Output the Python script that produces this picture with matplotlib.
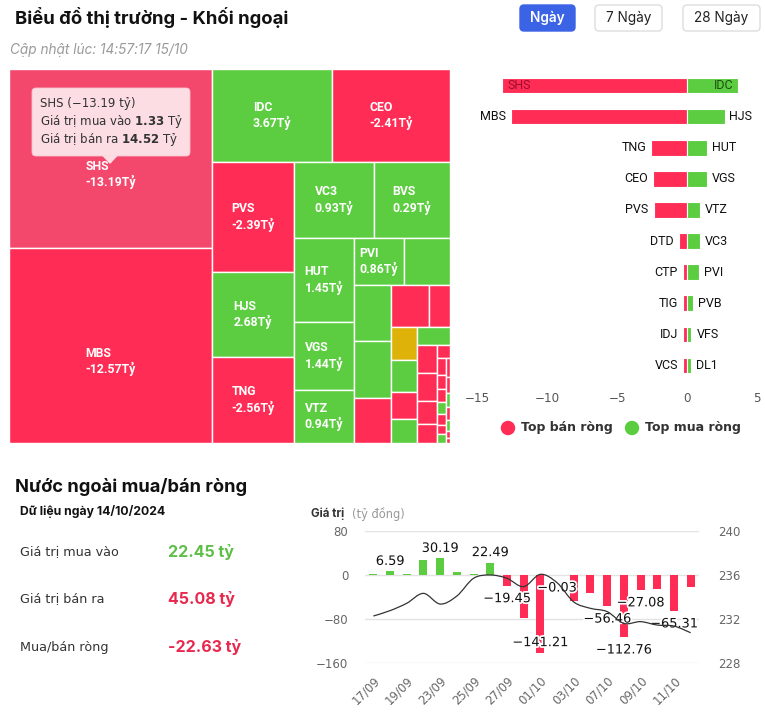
import matplotlib
matplotlib.use("Agg")
import matplotlib.pyplot as plt
import matplotlib.patheffects as pe
from matplotlib.patches import Rectangle, FancyBboxPatch, Circle, Polygon, PathPatch
from matplotlib.path import Path

RED = "#ff2d55"
RED_HOVER = "#f4476c"
GREEN = "#5ccd40"
YELLOW = "#dfb20a"

# treemap: ma, gia tri giao dich (trong so dien tich), mua/ban rong (ty)
tm_names = ["SHS", "MBS", "IDC", "CEO", "PVS", "HJS", "TNG", "VC3", "BVS", "HUT", "VGS", "VTZ", "PVI",
            "", "", "", "", "", "", "", "", "", "", "", "", "", "", "",
            "", "", "", "", "", "", "", "", "", "", "", "", "", "", ""]
tm_sizes = [36337, 39585, 11160, 10974, 9020, 6970, 7052, 6080, 5776, 5040, 4080, 3180, 2350,
            2162, 2072, 2109, 1665, 1596, 882, 884, 832, 702, 624, 594, 560, 560, 460, 380,
            182, 150, 140, 120, 110, 100, 90, 80, 70, 60, 55, 50, 40, 27, 20]
tm_net = [-13.19, -12.57, 3.67, -2.41, -2.39, 2.68, -2.56, 0.93, 0.29, 1.45, 1.44, 0.94, 0.86,
          0.5, 0.4, 0.3, -0.3, -0.3, -0.2, 0.0, 0.1, -0.2, 0.1, 0.1, -0.2, -0.2, -0.1, -0.1,
          -0.1, -0.1, -0.1, -0.1, 0.1, -0.1, -0.1, 0.1, -0.1, -0.1, 0.1, -0.1, 0.1, -0.1, -0.1]

# top mua/ban rong
sell_names = ["SHS", "MBS", "TNG", "CEO", "PVS", "DTD", "CTP", "TIG", "IDJ", "VCS"]
sell_vals = [-13.19, -12.57, -2.56, -2.41, -2.39, -0.58, -0.32, -0.31, -0.30, -0.29]
buy_names = ["IDC", "HJS", "HUT", "VGS", "VTZ", "VC3", "PVI", "PVB", "VFS", "DL1"]
buy_vals = [3.67, 2.68, 1.45, 1.44, 0.94, 0.93, 0.86, 0.46, 0.32, 0.31]

# lich su mua/ban rong + chi so
dates = ["17/09", "18/09", "19/09", "20/09", "23/09", "24/09", "25/09", "26/09", "27/09", "30/09",
         "01/10", "02/10", "03/10", "04/10", "07/10", "08/10", "09/10", "10/10", "11/10", "14/10"]
net_vals = [1.5, 6.59, 1.2, 27.0, 30.19, 5.5, 1.8, 22.49, -19.45, -78.0,
            -141.21, -0.03, -47.0, -33.0, -56.46, -112.76, -27.08, -26.0, -65.31, -22.63]
index_vals = [232.27, 232.76, 233.43, 234.33, 233.36, 234.09, 235.7, 236.0, 235.7, 234.94,
              236.06, 235.3, 233.55, 232.97, 232.67, 231.6, 231.76, 231.45, 231.36, 230.75]
labeled_days = ["18/09", "23/09", "26/09", "27/09", "01/10", "02/10", "07/10", "08/10", "09/10", "11/10"]


def treemap_layout(sizes, x0, y0, w, h):
    # squarified, doi huong sau moi nhom (kieu highcharts)
    total = float(sum(sizes))
    areas = [s * w * h / total for s in sizes]

    def ratio(a, s, d, w, h):
        t = s / h if d == 0 else s / w
        u = a / t
        return max(t / u, u / t)

    def place(group, x0, y0, w, h, d):
        s = sum(group)
        out = []
        if d == 0:
            gw = s / h
            yy = y0
            for a in group:
                out.append((x0, yy, gw, a / gw))
                yy += a / gw
            return out, x0 + gw, y0, w - gw, h
        gh = s / w
        xx = x0
        for a in group:
            out.append((xx, y0, a / gh, gh))
            xx += a / gh
        return out, x0, y0 + gh, w, h - gh

    rects, group, d = [], [], 0
    for a in areas:
        if group:
            s = sum(group)
            if ratio(group[-1], s + a, d, w, h) > ratio(group[-1], s, d, w, h):
                out, x0, y0, w, h = place(group, x0, y0, w, h, d)
                rects += out
                d = 1 - d
                group = []
        group.append(a)
    out, *_ = place(group, x0, y0, w, h, d)
    return rects + out


W_PX, H_PX = 765, 715
fig = plt.figure(figsize=(W_PX / 100, H_PX / 100), dpi=100)


def box(l, t, r, b):
    return [l / W_PX, 1 - b / H_PX, (r - l) / W_PX, (b - t) / H_PX]


# ---------- treemap ----------
TW, TH = 441, 374
ax = fig.add_axes(box(9, 69, 9 + TW, 69 + TH))
ax.set_xlim(0, TW)
ax.set_ylim(TH, 0)
ax.axis("off")
for i, (x, y, w, h) in enumerate(treemap_layout(tm_sizes, 0, 0, TW, TH)):
    v = tm_net[i]
    c = GREEN if v > 0 else (RED if v < 0 else YELLOW)
    if i == 0:
        c = RED_HOVER
    ax.add_patch(Rectangle((x, y), w, h, facecolor=c, edgecolor="white", linewidth=1))
    if tm_names[i]:
        # o lon: nhan hoi lech xuong duoi
        cy = y + h / 2 + (16 if h > 150 else 0)
        ax.text(x + w / 2, cy, f"{tm_names[i]}\n{v:.2f}Tỷ", ha="center", va="center",
                multialignment="left", color="white", fontsize=8.8, fontweight="bold",
                family="Roboto", linespacing=1.2)

# ---------- top ban/mua rong ----------
bx = fig.add_axes(box(477, 70, 757, 381))
rows = list(range(len(sell_names)))
bx.barh(rows, sell_vals, height=0.5, color=RED, edgecolor="white", linewidth=0.8)
bx.barh(rows, buy_vals, height=0.5, color=GREEN, edgecolor="white", linewidth=0.8)
bx.set_xlim(-15, 5)
bx.set_ylim(len(rows) - 0.5, -0.5)
bx.set_yticks([])
bx.set_xticks([-15, -10, -5, 0, 5])
bx.tick_params(axis="x", length=0, pad=8, labelsize=8.6, labelcolor="#555")
for s in bx.spines.values():
    s.set_visible(False)
for r in rows:
    sv, bv = sell_vals[r], buy_vals[r]
    if sv - 2.1 < -15:
        bx.text(sv + 0.35, r, sell_names[r], ha="left", va="center", fontsize=9,
                family="Roboto", color="#9e0d2c")
    else:
        bx.text(sv - 0.35, r, sell_names[r], ha="right", va="center", fontsize=9,
                family="Roboto", color="#111")
    if bv + 2.1 > 5:
        bx.text(bv - 0.35, r, buy_names[r], ha="right", va="center", fontsize=9,
                family="Roboto", color="#1f4f14")
    else:
        bx.text(bv + 0.35, r, buy_names[r], ha="left", va="center", fontsize=9,
                family="Roboto", color="#111")

# ---------- lich su ----------
cx = fig.add_axes(box(365, 531, 699, 663))
xs = list(range(len(dates)))
cx.bar(xs, net_vals, width=0.48, color=[GREEN if v >= 0 else RED for v in net_vals], zorder=2)
cx.set_xlim(-0.5, len(dates) - 0.5)
cx.set_ylim(-160, 80)
cx.set_yticks([-160, -80, 0, 80])
cx.grid(axis="y", color="#e3e3e3", linewidth=1, zorder=0)
cx.set_xticks(xs[::2])
cx.set_xticklabels(dates[::2], rotation=45, ha="right", rotation_mode="anchor")
cx.tick_params(axis="x", length=0, pad=8, labelsize=8.4, labelcolor="#666")
cx.tick_params(axis="y", length=0, pad=12, labelsize=8.5, labelcolor="#666")
for s in cx.spines.values():
    s.set_visible(False)
outline = [pe.withStroke(linewidth=2.5, foreground="white")]
for i, v in enumerate(net_vals):
    if dates[i] not in labeled_days:
        continue
    txt = f"{v:.2f}".replace("-", "\u2212")
    if v >= 0:
        off = 10
    elif v - 24 < -160:
        off = 10
    else:
        off = -13
    cx.annotate(txt, (i, v), xytext=(0, off * 0.72), textcoords="offset points",
                ha="center", va="center", fontsize=9.3, color="#111", zorder=5,
                path_effects=outline)

tx = cx.twinx()
tx.set_ylim(228, 240)
tx.set_yticks([228, 232, 236, 240])
tx.tick_params(axis="y", length=0, pad=14, labelsize=8.5, labelcolor="#666")
for s in tx.spines.values():
    s.set_visible(False)
pts = list(zip(xs, index_vals))
verts, codes = [pts[0]], [Path.MOVETO]
for i in range(len(pts) - 1):
    p0 = pts[max(i - 1, 0)]
    p1, p2 = pts[i], pts[i + 1]
    p3 = pts[min(i + 2, len(pts) - 1)]
    c1 = (p1[0] + (p2[0] - p0[0]) / 6, p1[1] + (p2[1] - p0[1]) / 6)
    c2 = (p2[0] - (p3[0] - p1[0]) / 6, p2[1] - (p3[1] - p1[1]) / 6)
    verts += [c1, c2, p2]
    codes += [Path.CURVE4] * 3
tx.add_patch(PathPatch(Path(verts, codes), facecolor="none", edgecolor="#333", linewidth=0.9, zorder=4))

# ---------- text, nut, tooltip, legend ----------
ov = fig.add_axes([0, 0, 1, 1])
ov.set_xlim(0, W_PX)
ov.set_ylim(H_PX, 0)
ov.axis("off")
ov.patch.set_alpha(0)

ov.text(15, 18, "Biểu đồ thị trường - Khối ngoại", fontsize=13.3, fontweight="bold",
        family="Inter", va="center", ha="left", color="#111")
ov.text(10, 50, "Cập nhật lúc: 14:57:17 15/10", fontsize=9.8, style="italic",
        family="Inter", va="center", ha="left", color="#9a9a9a")

buttons = [("Ngày", 520, 575, True), ("7 Ngày", 595, 662, False), ("28 Ngày", 683, 760, False)]
for label, l, r, active in buttons:
    ov.add_patch(FancyBboxPatch((l, 5), r - l, 26, boxstyle="round,pad=0,rounding_size=4",
                                facecolor="#3b63e6" if active else "white",
                                edgecolor="#3b63e6" if active else "#dddddd", linewidth=1))
    ov.text((l + r) / 2, 18, label, ha="center", va="center", fontsize=9.8, family="Inter",
            color="white" if active else "#222", fontweight="semibold" if active else "normal")

# tooltip
ov.add_patch(FancyBboxPatch((32, 88), 158, 68, boxstyle="round,pad=0,rounding_size=4",
                            facecolor="#fcdde3", edgecolor="#f6c5cf", linewidth=0.6))
ov.add_patch(Polygon([(102, 155.5), (118, 155.5), (110, 164)], closed=True,
                     facecolor="#fcdde3", edgecolor="none"))
ov.text(40, 103, "SHS (\u221213.19 tỷ)", fontsize=8.5, va="center", color="#333")
ov.text(40, 121, "Giá trị mua vào $\\bf{1.33}$ Tỷ", fontsize=8.5, va="center", color="#333")
ov.text(40, 140, "Giá trị bán ra $\\bf{14.52}$ Tỷ", fontsize=8.5, va="center", color="#333")

# legend
ov.add_patch(Circle((508, 428), 6.5, color=RED))
ov.text(521, 428, "Top bán ròng", fontsize=9, fontweight="bold", va="center", color="#333")
ov.add_patch(Circle((632, 428), 6.5, color=GREEN))
ov.text(645, 428, "Top mua ròng", fontsize=9, fontweight="bold", va="center", color="#333")

# khoi thong tin
ov.text(15, 487, "Nước ngoài mua/bán ròng", fontsize=13.2, fontweight="bold",
        family="Inter", va="center", color="#111")
ov.text(20, 512, "Dữ liệu ngày 14/10/2024", fontsize=8.8, fontweight="bold",
        family="Inter", va="center", color="#111")
info = [("Giá trị mua vào", "22.45 tỷ", "#5dbf45", 552),
        ("Giá trị bán ra", "45.08 tỷ", "#e8294f", 599),
        ("Mua/bán ròng", "-22.63 tỷ", "#e8294f", 647)]
for lab, val, col, y in info:
    ov.text(20, y, lab, fontsize=9.2, va="center", color="#333")
    ov.text(168, y, val, fontsize=11.5, fontweight="bold", family="Inter", va="center", color=col)

ov.text(311, 514, "Giá trị", fontsize=8.3, fontweight="bold", family="Inter", va="center", color="#333")
ov.text(352, 514, "(tỷ đồng)", fontsize=8.3, va="center", color="#999")

fig.savefig("out.png", dpi=100)
plt.close(fig)
